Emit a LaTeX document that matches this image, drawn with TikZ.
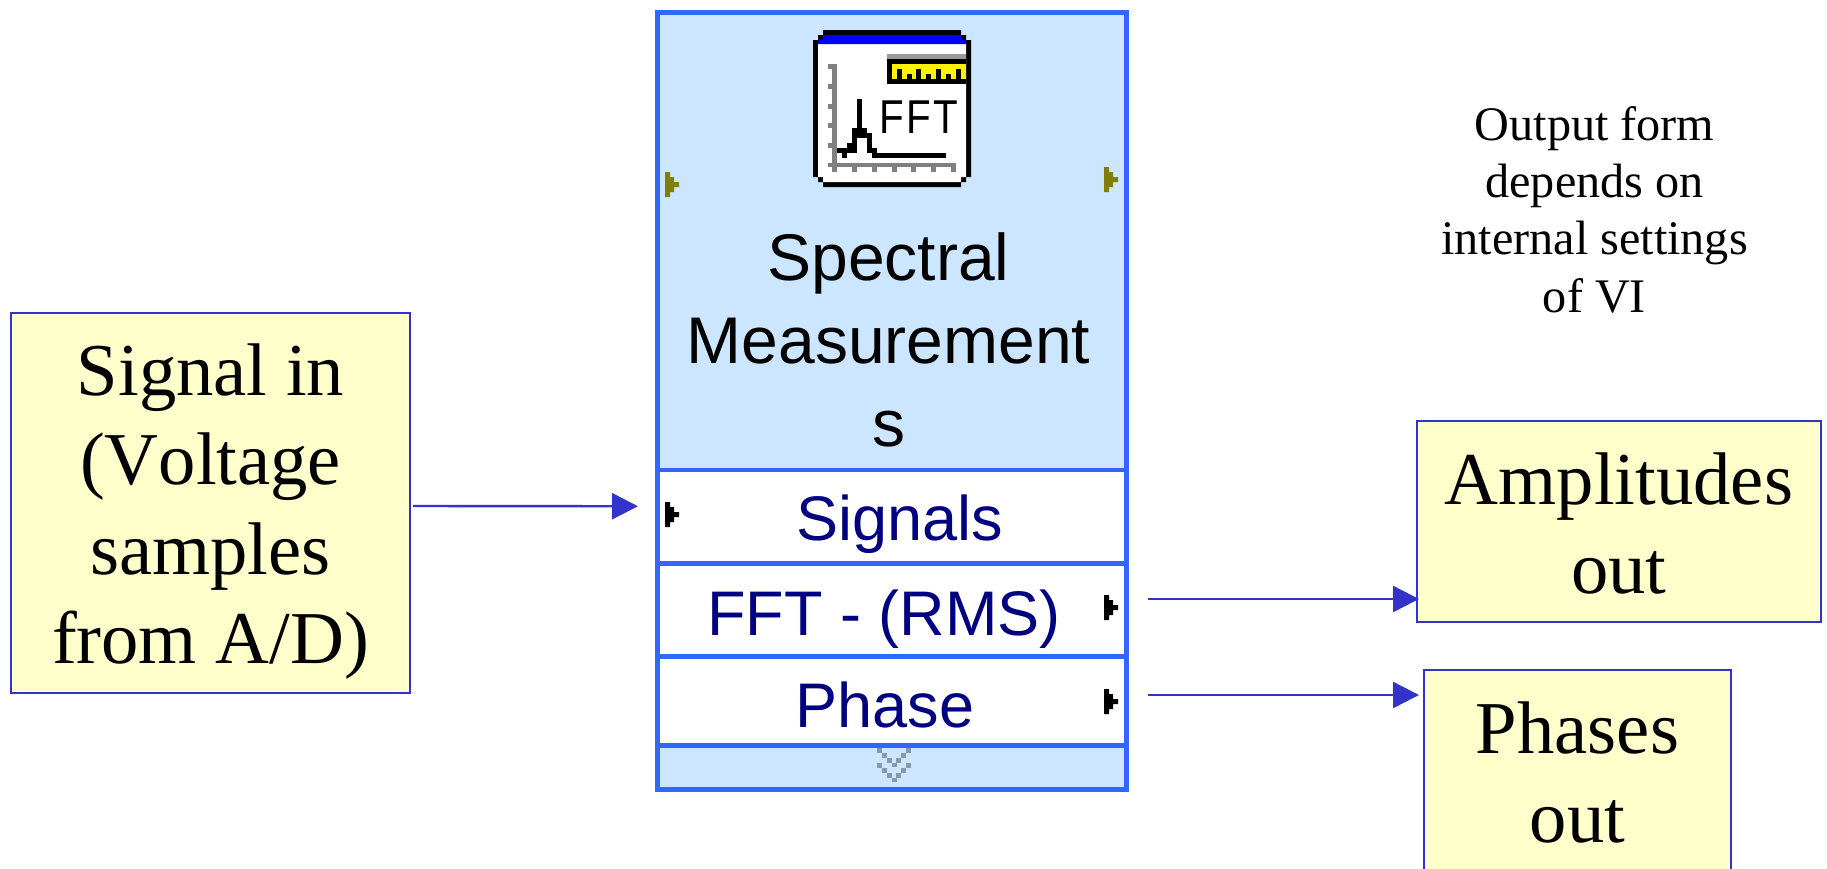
\documentclass[tikz,border=0pt]{standalone}
\usepackage{fontspec}
\setmainfont{Liberation Serif}
\newfontfamily\vifont{Liberation Sans}
\usetikzlibrary{arrows.meta,positioning}
\definecolor{panelblue}{RGB}{204,230,255}
\definecolor{panelline}{RGB}{51,102,255}
\definecolor{noteyellow}{RGB}{255,255,204}
\definecolor{noteline}{RGB}{51,51,204}
\definecolor{rowtext}{RGB}{0,0,128}
\definecolor{portolive}{RGB}{128,128,0}
\definecolor{chevgray}{RGB}{136,153,170}
\definecolor{iconblue}{RGB}{0,0,255}
\definecolor{icongray}{RGB}{128,128,128}

\begin{document}
\begin{tikzpicture}[x=1pt,y=-1pt,
  ybox/.style={draw=noteline,fill=noteyellow,line width=2pt,inner sep=0pt,outer sep=0pt,
               align=center,font=\fontsize{74.6}{89.2}\selectfont},
  panel/.style={draw=panelline,fill=panelblue,line width=4.7pt,inner sep=0pt,outer sep=0pt,
                minimum width=469pt},
  rowbox/.style={panel,fill=white},
  vilabel/.style={anchor=base,inner sep=0pt,text=rowtext,font=\vifont\fontsize{63}{70}\selectfont},
  arr/.style={-{Triangle[length=26pt,width=26pt]},line width=2.4pt,noteline},
  port/.pic={\path[pic actions] (0,0) -- (5,0) -- (5,5) -- (9,5) -- (9,10) -- (14,10) -- (14,15)
             -- (9,15) -- (9,20) -- (5,20) -- (5,25) -- (0,25) -- cycle;}
]
\useasboundingbox (0,0) rectangle (1827,868);

% VI block
\node[panel,minimum height=457.5pt] (header) at (892,241.25) {};
\node[rowbox,below=0pt of header,minimum height=93.5pt] (rowsignals) {};
\node[rowbox,below=0pt of rowsignals,minimum height=93pt] (rowfft) {};
\node[rowbox,below=0pt of rowfft,minimum height=89pt] (rowphase) {};
\node[panel,below=0pt of rowphase,minimum height=44pt] (rowgrow) {};
\node[inner sep=0pt,align=center,font=\vifont\fontsize{66}{83}\selectfont] (vititle) at (888.5,340)
  {Spectral\\Measurement\\s};
\node[vilabel] (lblsignals) at (899.5,540) {Signals};
\node[vilabel] (lblfft) at (884,635) {FFT - (RMS)};
\node[vilabel] (lblphase) at (885,727) {Phase};

% terminals
\pic[fill=portolive] at (665,172) {port};
\pic[fill=portolive] at (1104,167) {port};
\pic[fill=black] at (665,502) {port};
\pic[fill=black] at (1104,595) {port};
\pic[fill=black] at (1104,689) {port};

% grow handle
\foreach \ytop in {748,763}{
  \foreach \i in {0,1,2}{
    \fill[chevgray] (877+5*\i,\ytop+5*\i) rectangle +(5,5);
    \fill[chevgray] (906-5*\i,\ytop+5*\i) rectangle +(5,5);
  }
  \fill[chevgray] (892,\ytop+15) rectangle +(5,4);
}

% icon
\fill[black] (823,30) -- (961,30) -- (961,35) -- (966,35) -- (966,40) -- (971,40) -- (971,177)
  -- (966,177) -- (966,182) -- (961,182) -- (961,187) -- (823,187) -- (823,182) -- (818,182)
  -- (818,177) -- (813,177) -- (813,40) -- (818,40) -- (818,35) -- (823,35) -- cycle;
\fill[white] (818,44) -- (966,44) -- (966,177) -- (961,177) -- (961,182) -- (823,182)
  -- (823,177) -- (818,177) -- cycle;
\fill[iconblue] (823,35) -- (961,35) -- (961,40) -- (966,40) -- (966,44) -- (818,44)
  -- (818,40) -- (823,40) -- cycle;
\fill[gray!80] (887,54) rectangle (966,59);
\fill[black] (887,59) rectangle (966,84);
\fill[yellow] (892,64) rectangle (966,79);
\foreach \tx/\ty in {897/69,907/74,916/69,926/74,936/69,946/74,956/69}
  \fill[black] (\tx,\ty) rectangle (\tx+5,79);
\fill[icongray] (832,64) rectangle (837,172);
\fill[icongray] (828,163) rectangle (956,167);
\foreach \ty in {64,84,104,123,143}
  \fill[icongray] (828,\ty) rectangle (832,\ty+5);
\foreach \tx in {852,872,892,911,931,951}
  \fill[icongray] (\tx,167) rectangle (\tx+5,172);
\fill[black] (857,99) rectangle (862,128);
\fill[black] (852,128) rectangle (867,138);
\fill[black] (852,138) rectangle (857,153);
\fill[black] (847,143) rectangle (852,153);
\fill[black] (837,148) rectangle (847,153);
\fill[black] (842,153) rectangle (847,158);
\fill[black] (867,133) rectangle (872,153);
\fill[black] (872,148) rectangle (877,158);
\fill[black] (877,153) rectangle (946,158);
\node[anchor=base west,inner sep=0pt,font=\vifont\fontsize{47.5}{50}\selectfont] (iconfft) at (878.8,133)
  {\scalebox{.85}[1]{F\kern3pt F\kern3pt T}};

% side boxes
\node[ybox,minimum width=399pt,minimum height=380pt] (signalin) at (210.5,502.5)
  {\rule{0pt}{70pt}Signal in\\(V\kern0pt oltage\\samples\\from A/D)};
\node[ybox,minimum width=404pt,minimum height=201pt] (ampout) at (1619,521.5)
  {\rule{0pt}{56pt}Amplitudes\\out};
\node[ybox,minimum width=307pt,minimum height=201pt] (phaseout) at (1577.5,770.5)
  {\rule{0pt}{56pt}Phases\\out};
\node[inner sep=0pt,align=center,font=\fontsize{48.2}{57.3}\selectfont] (note) at (1594.5,209.7)
  {Output form\\depends on\\internal settings\\of VI};

% connectors
\draw[arr] ([shift={(3,3.5)}]signalin.east) -- ([shift={(-19.5,-10.5)}]rowsignals.west);
\draw[arr] ([shift={(21.5,-11)}]rowfft.east) -- ([shift={(2,77.5)}]ampout.west);
\draw[arr] ([shift={(21.5,-6)}]rowphase.east) -- ([shift={(-5,-75.5)}]phaseout.west);
\end{tikzpicture}
\end{document}
